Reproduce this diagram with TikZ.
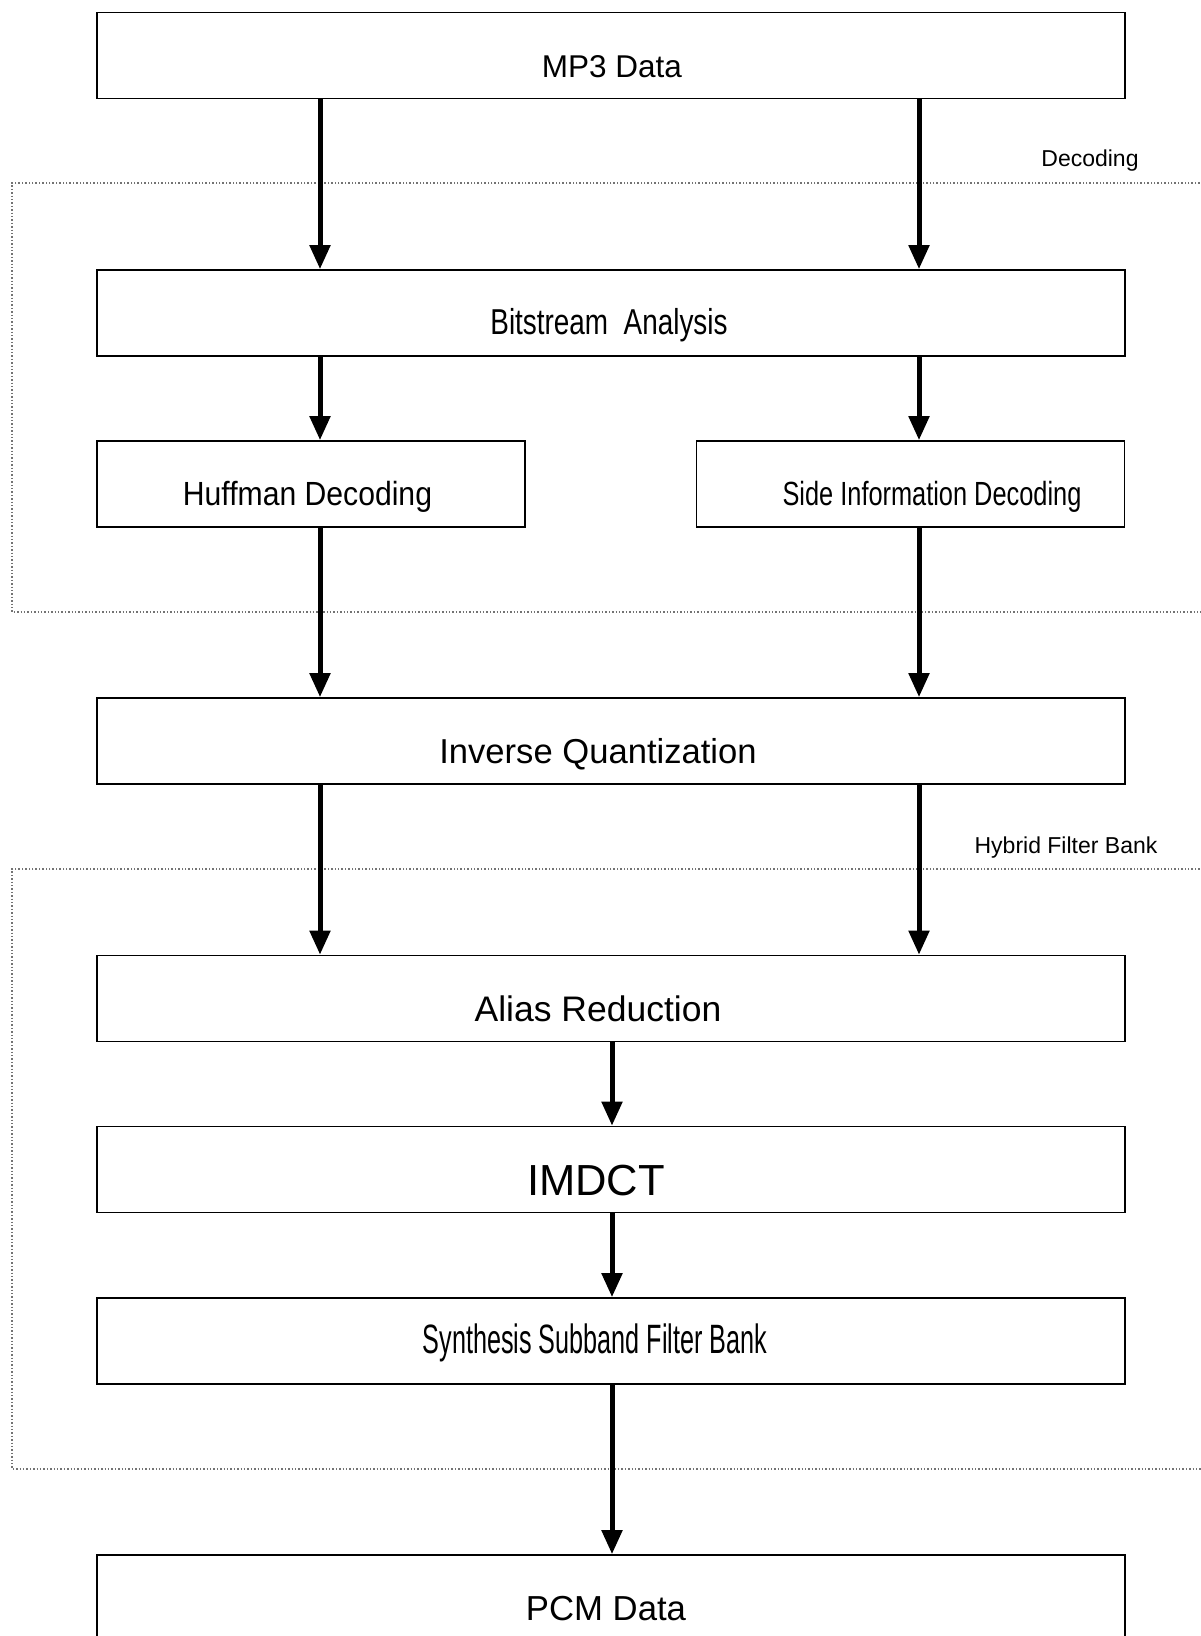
\documentclass[tikz,border=0pt]{standalone}
\usepackage{fontspec}
\setmainfont{Liberation Sans}
\usepackage{graphicx}
\usetikzlibrary{arrows.meta}

\tikzset{
  stage/.style={draw=black, line width=1.7pt, fill=none, inner sep=0pt,
    minimum width=1028pt, minimum height=86pt},
  halfstage/.style={stage, minimum width=428pt},
  lbl/.style={anchor=base, inner sep=0pt, text=black},
  flow/.style={line width=5pt, -{Triangle[width=20pt,length=24pt]}, shorten >=0pt},
  group/.style={draw=black!55, line width=1.4pt, dotted},
  grouplbl/.style={anchor=base, inner sep=0pt, font=\fontsize{23}{27}\selectfont}
}
\newcommand{\fs}[1]{\fontsize{#1}{#1}\selectfont}

\begin{document}
\begin{tikzpicture}[x=1pt, y=-1pt]
  \clip (0,0) rectangle (1201,1636);
  \fill[white] (0,0) rectangle (1201,1636);

  % processing groups
  \draw[group] (1220,183) -- (12,183) -- (12,612) -- (1220,612);
  \draw[group] (1220,869) -- (12,869) -- (12,1469) -- (1220,1469);
  \node[grouplbl] (declbl) at (1090,166) {Decoding};
  \node[grouplbl] (hyblbl) at (1066,853) {Hybrid Filter Bank};

  % stages
  \node[stage] (mp3) at (611,55.5) {};
  \node[stage] (bits) at (611,313) {};
  \node[halfstage] (huff) at (311,484) {};
  \node[halfstage] (side) at (910.5,484) {};
  \node[stage] (invq) at (611,741) {};
  \node[stage] (alias) at (611,998.5) {};
  \node[stage] (imdct) at (611,1169.5) {};
  \node[stage] (synth) at (611,1341) {};
  \node[stage] (pcm) at (611,1598) {};

  % stage captions
  \node[lbl, font=\fs{31.5}] (mp3t) at (612,77) {MP3 Data};
  \node[lbl, font=\fs{36}] (bitst) at (609,334) {\scalebox{0.775}[1]{Bitstream\ \ Analysis}};
  \node[lbl, font=\fs{33.5}] (hufft) at (307.5,505) {\scalebox{0.9}[1]{Huffman Decoding}};
  \node[lbl, font=\fs{33.5}] (sidet) at (932,505) {\scalebox{0.757}[1]{Side Information Decoding}};
  \node[lbl, font=\fs{34.6}] (invqt) at (598,763) {Inverse Quantization};
  \node[lbl, font=\fs{35.5}] (aliast) at (598,1021) {Alias Reduction};
  \node[lbl, font=\fs{43.5}] (imdctt) at (596,1195) {IMDCT};
  \node[lbl, font=\fs{41}] (syntht) at (595,1353) {\scalebox{0.615}[1]{Synthesis Subband Filter Bank}};
  \node[lbl, font=\fs{34.7}] (pcmt) at (606,1620) {PCM Data};

  % data flow
  \draw[flow] (mp3.south -| 320,0) -- (bits.north -| 320,0);
  \draw[flow] (mp3.south -| 919,0) -- (bits.north -| 919,0);
  \draw[flow] (bits.south -| 320,0) -- (huff.north -| 320,0);
  \draw[flow] (bits.south -| 919,0) -- (side.north -| 919,0);
  \draw[flow] (huff.south -| 320,0) -- (invq.north -| 320,0);
  \draw[flow] (side.south -| 919,0) -- (invq.north -| 919,0);
  \draw[flow] (invq.south -| 320,0) -- (alias.north -| 320,0);
  \draw[flow] (invq.south -| 919,0) -- (alias.north -| 919,0);
  \draw[flow] (alias.south -| 612,0) -- (imdct.north -| 612,0);
  \draw[flow] (imdct.south -| 612,0) -- (synth.north -| 612,0);
  \draw[flow] (synth.south -| 612,0) -- (pcm.north -| 612,0);
\end{tikzpicture}
\end{document}
